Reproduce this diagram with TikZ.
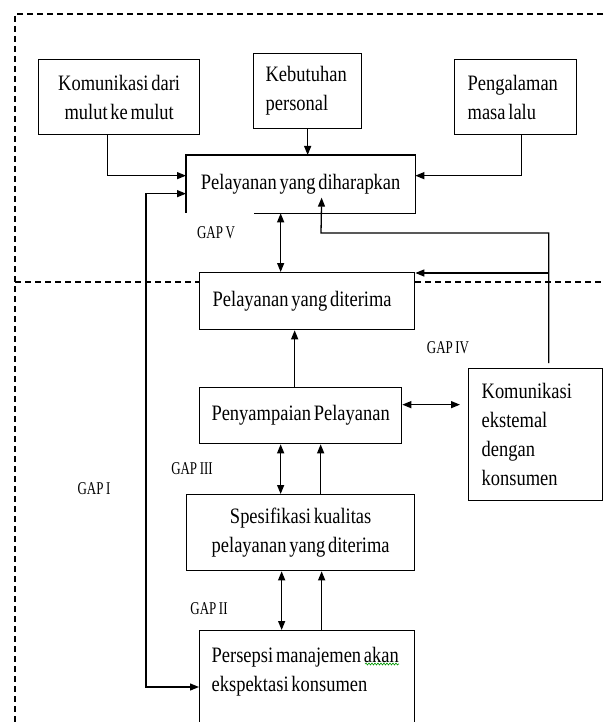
\documentclass[tikz,border=0pt]{standalone}
\usepackage{fontspec}
\setmainfont{Liberation Serif}[FakeStretch=0.84, WordSpace=0.6]
\newfontfamily\gapfont{Liberation Serif}[FakeStretch=0.72, WordSpace=0.8]
\usetikzlibrary{arrows.meta,decorations.pathmorphing}
\begin{document}
\begin{tikzpicture}[x=1pt, y=-1pt, >={Triangle[length=9pt,width=7pt]}, line width=1.3pt]
        \tikzstyle{box}=[draw, fill=white, anchor=north west, inner sep=0pt, font=\fontsize{22}{29}\selectfont]
        \tikzstyle{gap}=[font=\gapfont\fontsize{18}{20}\selectfont]
        \tikzstyle{border}=[dash pattern=on 6pt off 4pt, line width=1.2pt]

        \useasboundingbox (0,0) rectangle (603,722);
        \clip (0,0) rectangle (603,722);

        \draw[border] (603,14) -- (15,14) -- (15,722);
        \draw[border] (15,282) -- (603,282);

        \node[box, text width=161pt, align=flush center, minimum height=75pt](kom) at (38,59){Komunikasi dari\\mulut ke mulut};
        \node[box, inner xsep=12pt, text width=84pt, align=flush left, minimum height=75pt](keb) at (253,53){Kebutuhan\\personal};
        \node[box, inner xsep=13pt, text width=96pt, align=flush left, minimum height=75pt](peng) at (454,59){Pengalaman\\masa lalu};

        \node[box, draw=none, text width=228pt, align=flush center, minimum height=57pt](harap) at (186,155){Pelayanan yang diharapkan};
        \draw ([xshift=68pt]harap.south west) -- (harap.south east) -- (harap.north east)
        -- (harap.north west) -- (harap.south west);

        \node[box, inner xsep=13pt, text width=189pt, align=flush left, minimum height=57pt](terima) at (199,272){Pelayanan yang diterima};
        \node[box, text width=202pt, align=flush center, minimum height=56pt](sampai) at (199,387){Penyampaian Pelayanan};
        \node[box, inner xsep=13pt, text width=108pt, align=flush left, minimum height=132pt](eks) at (468,368){Komunikasi\\ekstemal\\dengan\\konsumen};
        \node[box, text width=228pt, align=flush center, minimum height=76pt](spes) at (186,494){Spesifikasi kualitas\\pelayanan yang diterima};
        \node[box, inner xsep=12pt, text width=191pt, align=flush left, minimum height=106pt](pers) at (199,630){Persepsi manajemen akan\\ekspektasi konsumen\\\mbox{}};

        \draw[green!60!black, line width=0.6pt, decorate, decoration={snake, amplitude=1pt, segment length=3pt}] (365,664) -- (399,664);

        \node[gap](gapI) at (94,489){GAP I};
        \node[gap](gapII) at (209,609){GAP II};
        \node[gap](gapIII) at (192,469){GAP III};
        \node[gap](gapIV) at (448,348){GAP IV};
        \node[gap](gapV) at (216,233){GAP V};

        \coordinate (bendI) at (146,687);
        \coordinate (bendK) at (321,233);

        \draw[->] ([xshift=-11.5pt]kom.south) |- ([yshift=8.5pt]harap.west);
        \draw[->] (keb.south) -- (keb.south |- harap.north);
        \draw[->] ([xshift=6pt]peng.south) |- ([yshift=8.5pt]harap.east);
        \draw[<->] ([yshift=-9.5pt]harap.west) -| (bendI) -- (bendI -| pers.west);
        \draw[<->] ([xshift=-20pt]harap.south) -- ([xshift=-20pt]harap.south |- terima.north);
        \draw[->] ([xshift=13pt,yshift=5pt]eks.north) |- (bendK) -- ([xshift=21pt,yshift=-13.5pt]harap.center);
        \draw[->] ([xshift=13pt,yshift=5pt]eks.north) |- ([yshift=-1pt]terima.north east);
        \draw[->] ([xshift=-6pt]sampai.north) -- ([xshift=-6pt]sampai.north |- terima.south);
        \draw[<->, shorten >=8pt] ([yshift=11pt]sampai.east) -- ([yshift=11pt]sampai.east -| eks.west);

        \draw[<->] ([xshift=-20pt]sampai.south) -- ([xshift=-20pt]sampai.south |- spes.north);
        \draw[->] ([xshift=20pt]sampai.south |- spes.north) -- ([xshift=20pt]sampai.south);
        \draw[<->] ([xshift=-19pt]spes.south) -- ([xshift=-19pt]spes.south |- pers.north);
        \draw[->] ([xshift=21pt]spes.south |- pers.north) -- ([xshift=21pt]spes.south);

\end{tikzpicture}
\end{document}
